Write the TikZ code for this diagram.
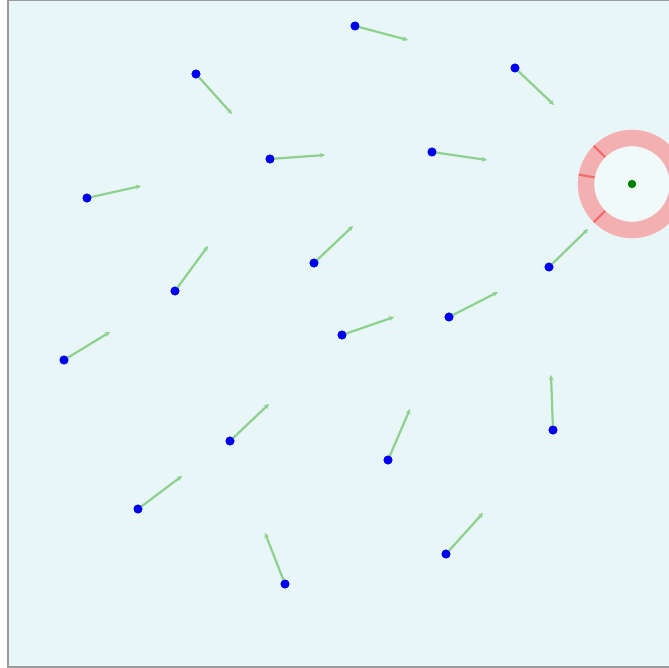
\documentclass[tikz,border=0pt]{standalone}
\usetikzlibrary{arrows.meta}
\definecolor{bgc}{HTML}{E8F6F8}
\definecolor{innerc}{HTML}{F1FAFB}
\definecolor{bordc}{HTML}{9A9A9A}
\definecolor{ringc}{HTML}{F4B0B0}
\definecolor{tickc}{HTML}{EE6E6E}
\definecolor{arrc}{HTML}{8ED08E}
\definecolor{dotc}{HTML}{0000F0}
\definecolor{goalc}{HTML}{008000}
\tikzset{
  agent/.style={circle,fill=dotc,inner sep=0pt,minimum size=4.4pt},
  goal/.style={circle,fill=goalc,inner sep=0pt,minimum size=4.2pt},
  vel/.style={draw=arrc,line width=1.1pt,-{Stealth[length=2.5pt,width=2.5pt]}},
  ringtick/.style={draw=tickc,line width=1.1pt}
}
\begin{document}
\begin{tikzpicture}[x=0.5pt,y=-0.5pt]
\useasboundingbox (0,0) rectangle (668,668);
\fill[white] (0,0) rectangle (668,668);
\fill[bgc] (7.5,0.5) rectangle (690,666.5);
\draw[bordc,line width=1pt] (690,0.5) -- (7.5,0.5) -- (7.5,666.5) -- (690,666.5);
% ring
\fill[innerc] (632,184) circle[radius=38];
\draw[ringc,line width=8.2pt] (632,184) circle[radius=46];
\draw[ringtick] (605.1,157.1) -- (593.8,145.8);
\draw[ringtick] (594.6,177.4) -- (578.8,174.6);
\draw[ringtick] (605.1,210.9) -- (593.8,222.2);
\node[goal] (g) at (632,184) {};
% agents
\foreach \i/\x/\y/\ex/\ey in {
 1/355/26/408/40,
 2/196/74/232/114,
 3/515/68/554/105,
 4/270/159/325/155,
 5/432/152/487/160,
 6/87/198/141/186,
 7/175/291/208/246,
 8/314/263/353/226,
 9/549/267/588/229,
 10/64/360/110/332,
 11/342/335/394/317,
 12/449/317/498/292,
 13/553/430/551/375,
 14/230/441/269/404,
 15/388/460/410/409,
 16/138/509/182/476,
 17/285/584/265/533,
 18/446/554/483/513}{
  \coordinate (v\i) at (\ex,\ey);
  \node[agent] (a\i) at (\x,\y) {};
  \draw[vel] (a\i.center) -- (v\i);
  \node[agent] at (a\i) {};
}
\end{tikzpicture}
\end{document}
